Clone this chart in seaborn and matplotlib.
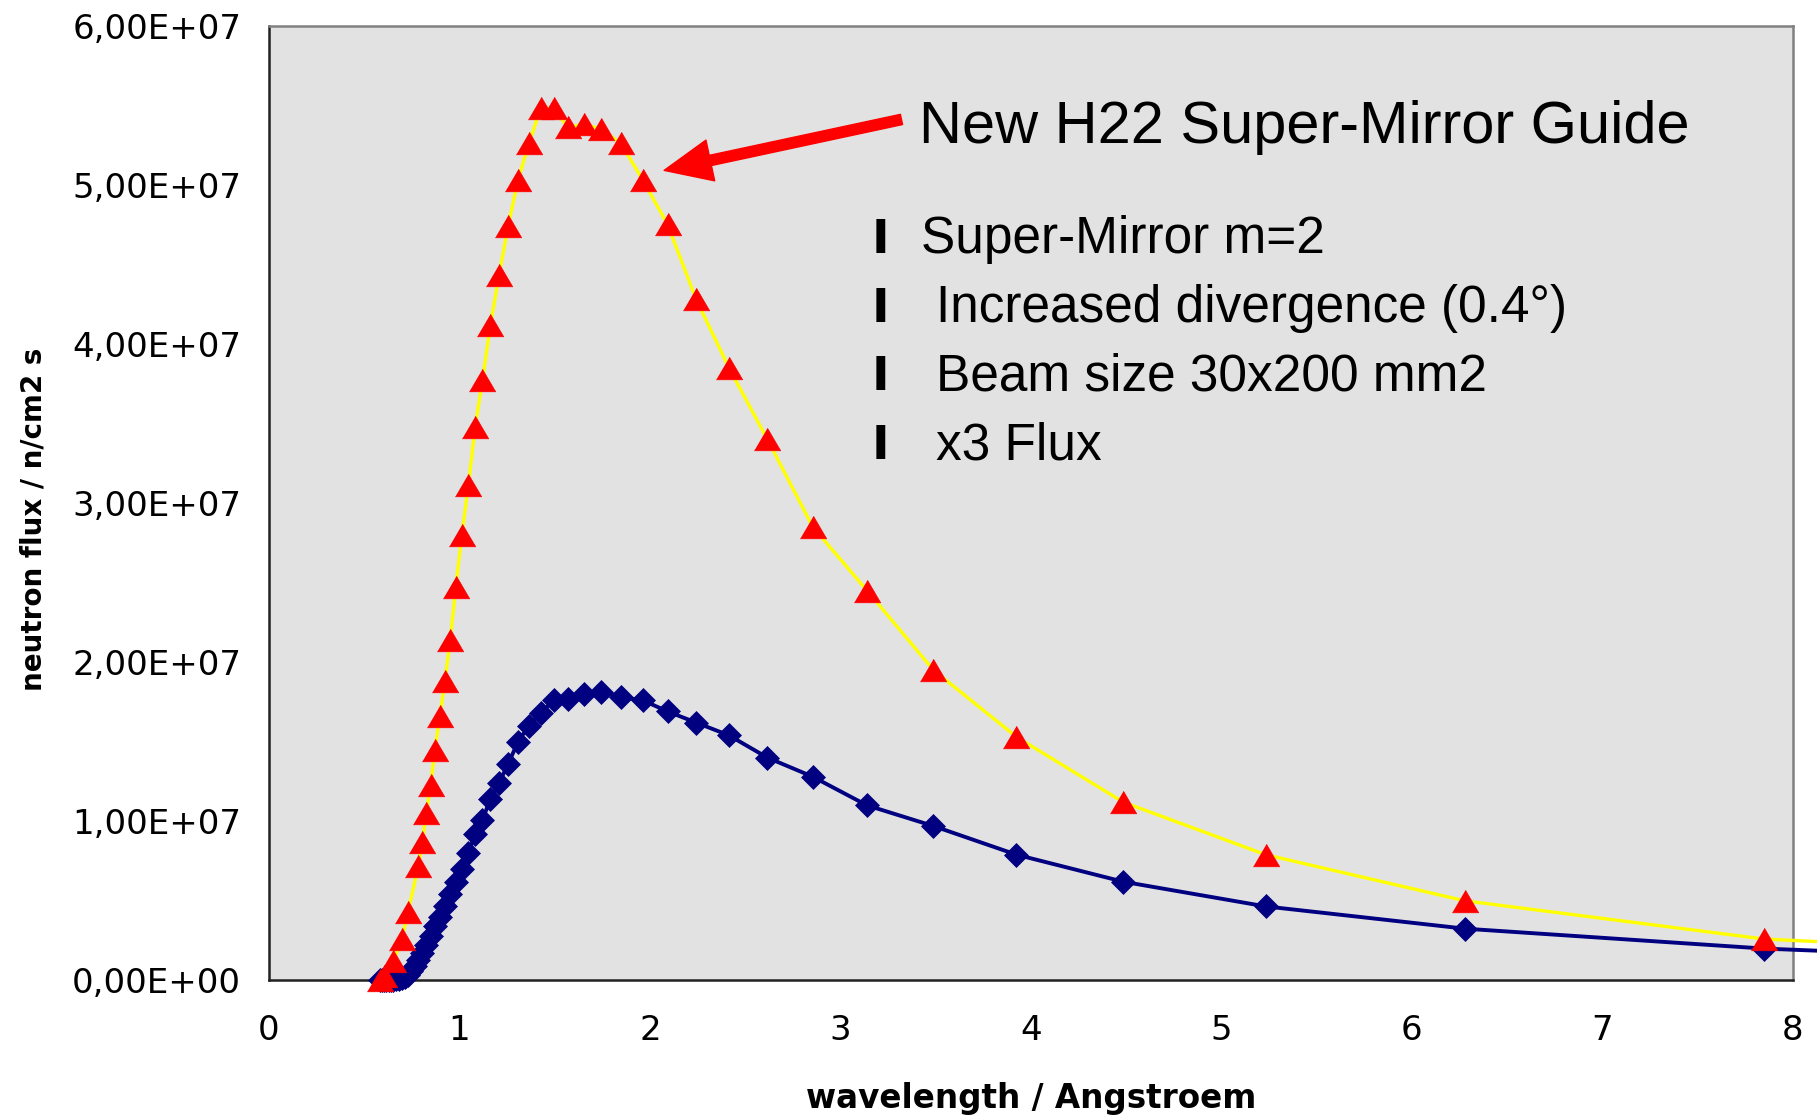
import matplotlib.pyplot as plt
import numpy as np
import seaborn as sns
from matplotlib.ticker import FuncFormatter

# wavelength in Angstroem, flux in units of 1E+07 n/cm2 s
wl_new = [0.581, 0.604, 0.654, 0.698, 0.730, 0.785, 0.805, 0.826, 0.849, 0.872,
          0.897, 0.924, 0.952, 0.981, 1.013, 1.047, 1.083, 1.121, 1.163, 1.208,
          1.256, 1.308, 1.365, 1.427, 1.495, 1.570, 1.653, 1.744, 1.847, 1.963,
          2.093, 2.243, 2.415, 2.617, 2.855, 3.140, 3.489, 3.925, 4.486, 5.233,
          6.280, 7.850, 10.47]
flux_new = [0.00, 0.03, 0.12, 0.26, 0.43, 0.72, 0.87, 1.05, 1.23, 1.45,
            1.66, 1.88, 2.14, 2.47, 2.80, 3.11, 3.48, 3.77, 4.12, 4.43,
            4.74, 5.03, 5.26, 5.48, 5.48, 5.36, 5.38, 5.35, 5.26, 5.03,
            4.75, 4.28, 3.85, 3.40, 2.85, 2.45, 1.95, 1.53, 1.12, 0.79,
            0.50, 0.26, 0.11]

wl_old = [0.581, 0.592, 0.604, 0.616, 0.628, 0.641, 0.654, 0.668, 0.683, 0.698,
          0.714, 0.730, 0.748, 0.766, 0.785, 0.805, 0.826, 0.849, 0.872, 0.897,
          0.924, 0.952, 0.981, 1.013, 1.047, 1.083, 1.121, 1.163, 1.208, 1.256,
          1.308, 1.365, 1.427, 1.495, 1.570, 1.653, 1.744, 1.847, 1.963, 2.093,
          2.243, 2.415, 2.617, 2.855, 3.140, 3.489, 3.925, 4.486, 5.233, 6.280,
          7.850, 10.47]
flux_old = [0.000, 0.000, 0.000, 0.002, 0.003, 0.004, 0.005, 0.006, 0.008, 0.012,
            0.022, 0.035, 0.060, 0.090, 0.130, 0.175, 0.225, 0.280, 0.340, 0.400,
            0.470, 0.540, 0.620, 0.700, 0.800, 0.920, 1.010, 1.140, 1.240, 1.360,
            1.500, 1.600, 1.680, 1.760, 1.770, 1.800, 1.815, 1.780, 1.760, 1.690,
            1.620, 1.540, 1.400, 1.280, 1.100, 0.970, 0.790, 0.620, 0.465, 0.325,
            0.200, 0.075]

x_ticks = [0, 1, 2, 3, 4, 5, 6, 7, 8]
y_ticks = [0, 1e7, 2e7, 3e7, 4e7, 5e7, 6e7]

title_text = "New H22 Super-Mirror Guide"
bullets = ["Super-Mirror m=2", "Increased divergence (0.4°)",
           "Beam size 30x200 mm2", "x3 Flux"]

sns.set_style("white")
plt.rcParams['font.family'] = ['DejaVu Sans']
plt.rcParams['text.color'] = 'black'
plt.rcParams['axes.labelcolor'] = 'black'

fig = plt.figure(figsize=(18.17, 11.16), dpi=100)
ax = fig.add_axes([0.148, 0.1215, 0.8386, 0.8556])
ax.set_facecolor('#E2E2E2')

tri = [(-1.17, -1), (1.17, -1), (0, 1)]

sns.lineplot(x=wl_old, y=np.array(flux_old) * 1e7, ax=ax, sort=False, estimator=None,
             color='#000080', lw=2.8, marker='D', ms=12, mec='#000080', mew=0.5,
             clip_on=False, zorder=3)
sns.lineplot(x=wl_new, y=np.array(flux_new) * 1e7, ax=ax, sort=False, estimator=None,
             color='#FFFF00', lw=2.4, marker=tri, ms=19, mfc='#FF0000', mec='#FF0000',
             mew=0.5, clip_on=False, zorder=4)

ax.set_xlim(0, 8)
ax.set_ylim(0, 6e7)
ax.set_xticks(x_ticks)
ax.set_yticks(y_ticks)
ax.yaxis.set_major_formatter(FuncFormatter(lambda v, p: f"{v:.2E}".replace('.', ',')))
ax.tick_params(axis='both', direction='inout', length=16, width=1.2, colors='#333333',
               labelcolor='black', labelsize=24.5)
ax.tick_params(axis='x', pad=16)
ax.tick_params(axis='y', pad=12)

for side in ['left', 'bottom']:
    ax.spines[side].set_color('#222222')
    ax.spines[side].set_linewidth(1.8)
for side in ['top', 'right']:
    ax.spines[side].set_color('#808080')
    ax.spines[side].set_linewidth(1.8)

ax.set_xlabel("wavelength / Angstroem", fontsize=23.5, fontweight='bold')
ax.set_ylabel("neutron flux / n/cm2 s", fontsize=20, fontweight='bold')
ax.xaxis.set_label_coords(0.5, -0.106)
ax.yaxis.set_label_coords(-0.145, 0.483)

# annotation with arrow
ax.annotate("", xy=(2.075, 5.09e7), xytext=(3.321, 5.41e7),
            arrowprops=dict(arrowstyle='simple,head_length=3.4,head_width=3.0,tail_width=0.75',
                            mutation_scale=10, color='#FF0000', shrinkA=0, shrinkB=0),
            zorder=5)
ax.text(3.413, 5.265e7, title_text, fontsize=42.8, family='Liberation Sans',
        ha='left', va='baseline', zorder=6)

row_y = [4.573e7, 4.137e7, 3.707e7, 3.276e7]
row_x = [3.425, 3.504, 3.504, 3.504]
for txt, yy, xx in zip(bullets, row_y, row_x):
    ax.text(3.212, yy, "I", fontsize=34, fontweight='bold', family='DejaVu Sans',
            ha='center', va='baseline')
    ax.text(xx, yy, txt, fontsize=37, family='Liberation Sans', ha='left', va='baseline')

plt.savefig('out.png', dpi=100)
